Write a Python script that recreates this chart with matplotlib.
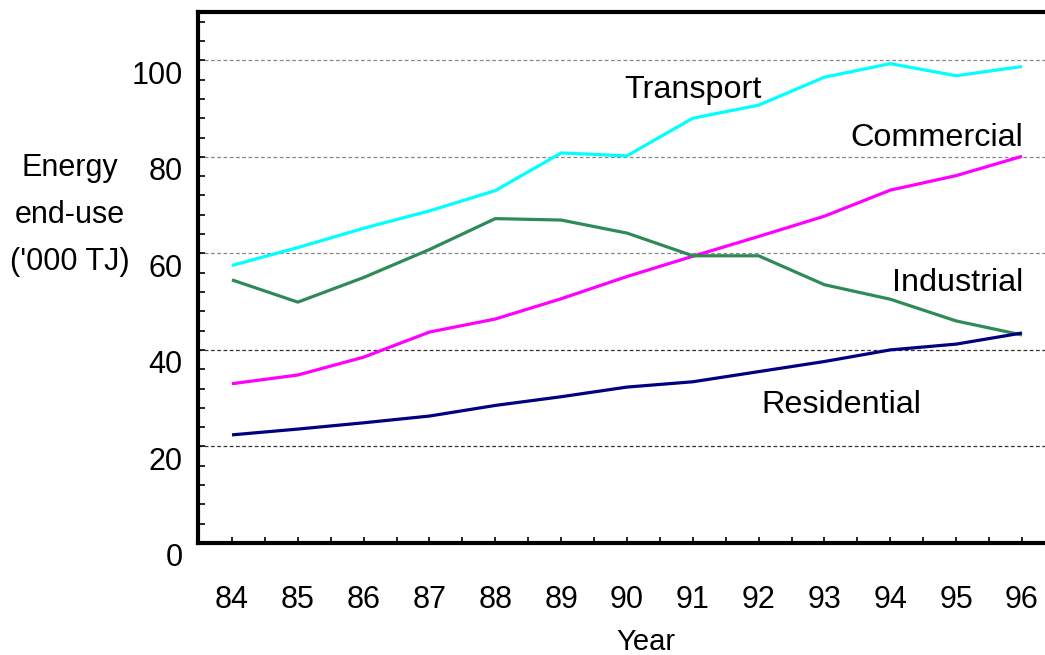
import numpy as np
import matplotlib
matplotlib.use("Agg")
import matplotlib.pyplot as plt
from matplotlib.transforms import ScaledTranslation

plt.rcParams['font.family'] = ['Liberation Sans', 'DejaVu Sans']

years = [84, 85, 86, 87, 88, 89, 90, 91, 92, 93, 94, 95, 96]
transport = [57.5, 61.2, 65.2, 68.8, 73.0, 80.8, 80.2, 88.0, 90.7, 96.5, 99.3, 96.8, 98.7]
commercial = [33.0, 34.8, 38.5, 43.7, 46.4, 50.6, 55.2, 59.4, 63.5, 67.7, 73.1, 76.1, 80.1]
industrial = [54.5, 49.9, 55.0, 60.8, 67.2, 66.9, 64.2, 59.5, 59.5, 53.5, 50.5, 46.0, 43.1]
residential = [22.4, 23.6, 24.9, 26.3, 28.5, 30.3, 32.3, 33.4, 35.5, 37.6, 40.0, 41.2, 43.5]

series_names = ["Transport", "Commercial", "Industrial", "Residential"]
series_colors = ["#00ffff", "#ff00ff", "#2e8b57", "#000080"]
y_ticks = [0, 20, 40, 60, 80, 100]

fig = plt.figure(figsize=(10.45, 6.55), dpi=100)
ax = fig.add_axes([198/1045, 1 - 543/655, 1 - 198/1045, (543 - 12)/655])

# gridlines: grey up top, darker below
for v in y_ticks[1:]:
	col = "#333333" if v <= 40 else "#888888"
	ax.axhline(v, color=col, lw=0.9, ls=(0, (3, 2)), zorder=1)

for vals, col in zip((transport, commercial, industrial, residential), series_colors):
	ax.plot(years, vals, color=col, lw=2.3, zorder=3, solid_capstyle='butt')

# series labels
lab_size = 23.3
ax.text(91.0, 92.2, series_names[0], fontsize=lab_size, ha='center', va='baseline')
ax.text(96.02, 82.3, series_names[1], fontsize=lab_size, ha='right', va='baseline')
ax.text(96.02, 52.3, series_names[2], fontsize=lab_size, ha='right', va='baseline')
ax.text(93.26, 26.9, series_names[3], fontsize=lab_size, ha='center', va='baseline')

ax.set_xlim(84 - 34/65.83, 84 + (1045 - 232)/65.83)
ax.set_ylim(0, 110)

ax.set_xticks(years)
ax.set_xticklabels([str(y) for y in years])
ax.set_xticks(np.arange(84.5, 96.5, 1.0), minor=True)
ax.set_yticks(y_ticks)
ax.set_yticks(np.arange(0, 110, 4), minor=True)

ax.tick_params(axis='both', which='both', direction='in', color='black')
ax.tick_params(axis='x', which='both', length=4, width=1.2, labelsize=22, pad=30)
ax.tick_params(axis='y', which='both', length=5, width=1.2, labelsize=22, pad=11)

# y labels sit a bit below their gridlines
for lab in ax.get_yticklabels():
	lab.set_transform(lab.get_transform() + ScaledTranslation(0, -0.12, fig.dpi_scale_trans))

for side in ('left', 'bottom', 'top'):
	ax.spines[side].set_linewidth(3)
ax.spines['right'].set_visible(False)

fig.text(70/1045, 1 - 215/655, "Energy\nend-use\n('000 TJ)", fontsize=22, ha='center', va='center',
	linespacing=1.75)
fig.text(646/1045, 1 - 642/655, "Year", fontsize=21, ha='center', va='center')

fig.savefig("out.png", dpi=100)
